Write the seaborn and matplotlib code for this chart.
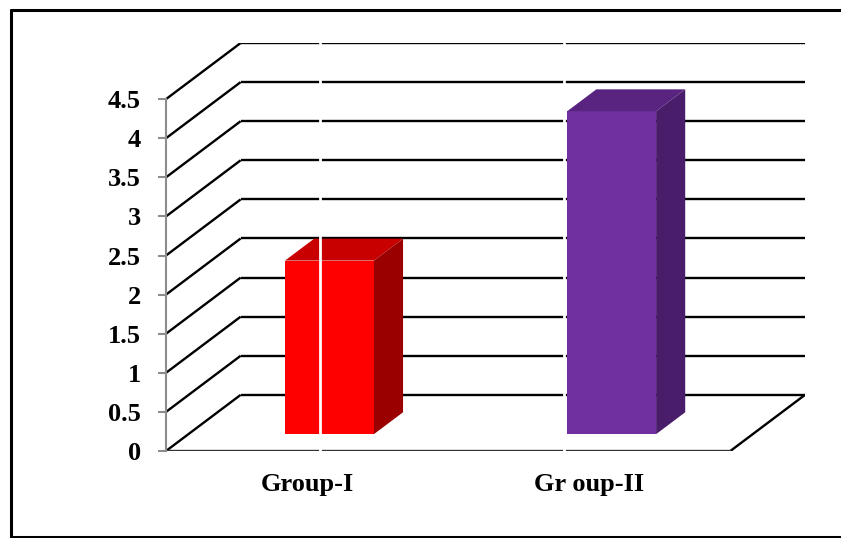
# ============================================================
# 3D-style bar chart: Group-I vs Group-II
# ============================================================

import pandas as pd
import matplotlib.pyplot as plt
import seaborn as sns
from matplotlib.lines import Line2D
from matplotlib.patches import Polygon


# ============================================================
# 1. Data
# ============================================================

groups = ["Group-I", "Gr oup-II"]
values = [2.22, 4.13]
y_ticks = [0, 0.5, 1, 1.5, 2, 2.5, 3, 3.5, 4, 4.5]
y_tick_labels = ["0", "0.5", "1", "1.5", "2", "2.5", "3", "3.5", "4", "4.5"]

front_colors = ["#FF0000", "#7030A0"]
top_colors = ["#C80000", "#58247F"]
side_colors = ["#9A0000", "#4A1D6B"]

df = pd.DataFrame({"group": groups, "value": values})


# ============================================================
# 2. Style
# ============================================================

sns.set_style("white")
plt.rcParams["font.family"] = ["Liberation Serif", "DejaVu Serif"]
plt.rcParams["text.color"] = "black"
plt.rcParams["xtick.labelcolor"] = "black"
plt.rcParams["ytick.labelcolor"] = "black"

W, H = 841, 538
fig = plt.figure(figsize=(W / 100, H / 100), dpi=100)

# depth of the 3D box (data units) and where the bars sit inside it
depth_x, depth_y = 0.2646, 0.718
bar_front = 0.30
bar_depth = 0.39

y_max = y_ticks[-1]
n = len(groups)

# place the axes so that the front plane runs from x=-0.5 to n-0.5
left_px, right_px = 166, 805
bottom_px, top_px = 451, 43
ax = fig.add_axes([
    left_px / W,
    (H - bottom_px) / H,
    (right_px - left_px) / W,
    (bottom_px - top_px) / H,
])


# ============================================================
# 3. Bars (front faces from seaborn, then top and side faces)
# ============================================================

sns.barplot(
    data=df,
    x="group",
    y="value",
    hue="group",
    palette=front_colors,
    saturation=1,
    width=0.315,
    linewidth=0,
    legend=False,
    ax=ax,
    zorder=3,
)

shift_x = bar_front * depth_x
shift_y = bar_front * depth_y
ddx = bar_depth * depth_x
ddy = bar_depth * depth_y

bars = sorted(ax.patches, key=lambda p: p.get_x())
for i, bar in enumerate(bars):
    bar.set_x(bar.get_x() + shift_x)
    bar.set_y(bar.get_y() + shift_y)
    x0 = bar.get_x()
    x1 = x0 + bar.get_width()
    y0 = bar.get_y()
    y1 = y0 + bar.get_height()

    top = Polygon(
        [(x0, y1), (x1, y1), (x1 + ddx, y1 + ddy), (x0 + ddx, y1 + ddy)],
        closed=True, facecolor=top_colors[i], edgecolor="none", zorder=3,
    )
    side = Polygon(
        [(x1, y0), (x1 + ddx, y0 + ddy), (x1 + ddx, y1 + ddy), (x1, y1)],
        closed=True, facecolor=side_colors[i], edgecolor="none", zorder=3,
    )
    ax.add_patch(top)
    ax.add_patch(side)


# ============================================================
# 4. Walls, floor and gridlines
# ============================================================

x_left = -0.5
x_right = n - 0.5
grid_kw = dict(color="black", linewidth=1.7, zorder=1, solid_capstyle="butt")

for v in y_ticks:
    # side wall diagonal
    ax.plot([x_left, x_left + depth_x], [v, v + depth_y], **grid_kw)
    # back wall line
    ax.plot([x_left + depth_x, x_right + depth_x],
            [v + depth_y, v + depth_y], **grid_kw)

# floor front edge and right edge
ax.plot([x_left, x_right], [0, 0], color="#333333", linewidth=1.7, zorder=2)
ax.plot([x_right, x_right + depth_x], [0, depth_y], **grid_kw)

# thin white gaps seen in the reference image
ax.axvline(0.0457, color="white", linewidth=2, zorder=5)
ax.axvline(0.912, color="white", linewidth=2, zorder=5)


# ============================================================
# 5. Axes setup
# ============================================================

ax.set_xlim(x_left, x_right + depth_x)
ax.set_ylim(0, y_max + depth_y)

for side_name in ["top", "right", "bottom"]:
    ax.spines[side_name].set_visible(False)
ax.spines["left"].set_color("#8C8C8C")
ax.spines["left"].set_linewidth(1.5)
ax.spines["left"].set_bounds(0, y_max)
ax.spines["left"].set_zorder(4)

ax.set_yticks(y_ticks)
ax.set_yticklabels(y_tick_labels, fontsize=19, fontweight="bold", color="black")
ax.tick_params(axis="y", left=True, length=6, width=1.5, color="#8C8C8C", pad=12)

ax.set_xticks(range(n))
ax.set_xticklabels(groups, fontsize=19, fontweight="bold", color="black")
ax.tick_params(axis="x", length=0, pad=16)

ax.set_xlabel("")
ax.set_ylabel("")
ax.grid(False)


# ============================================================
# 6. Outer frame
# ============================================================

frame_kw = dict(color="black", linewidth=2.2, transform=fig.transFigure)
fig.add_artist(Line2D([11 / W, 11 / W], [1 - 10 / H, 0], **frame_kw))
fig.add_artist(Line2D([11 / W, 1], [1 - 10 / H, 1 - 10 / H], **frame_kw))
fig.add_artist(Line2D([11 / W, 1], [1 / H, 1 / H], **frame_kw))

fig.savefig("out.png", dpi=100)
plt.close(fig)
